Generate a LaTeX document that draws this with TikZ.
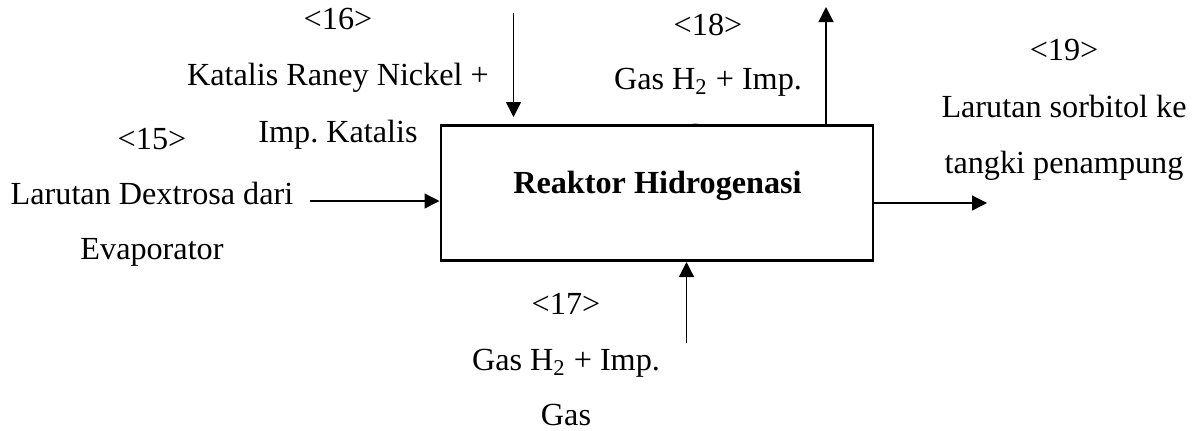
\documentclass[tikz,border=0pt]{standalone}
\usepackage{fontspec}
\setmainfont{Liberation Serif}
\usepackage{tikz}
\usetikzlibrary{arrows.meta,calc}
\frenchspacing

\begin{document}
\begin{tikzpicture}[
  x=0.5pt, y=-0.5pt,
  font=\fontsize{16.1}{19}\selectfont,
  lbl/.style={inner sep=0pt, anchor=base},
  unit/.style={draw, line width=1.3pt, fill=white, inner sep=0pt,
    minimum width=216pt, minimum height=67.7pt},
  flow/.style={-{Triangle[length=7.5pt,width=7.5pt]}, line width=0.65pt},
]
\useasboundingbox (0,0) rectangle (1199,430);
% stream 18 (last line lies behind the reactor)
\node[lbl] (n18) at (708,35) {<18>};
\node[lbl] (t18a) at (708,89) {Gas H\textsubscript{2} + Imp.};
\node[lbl] (t18b) at (708,145) {Gas};
% reactor
\node[unit] (reaktor) at (656.8,193) {};
\node[lbl, font=\fontsize{16.1}{19}\selectfont\bfseries] (nama) at (657.5,193) {Reaktor Hidrogenasi};
% stream 15
\node[lbl] (n15) at (152,149) {<15>};
\node[lbl] (t15a) at (152,204) {Larutan Dextrosa dari};
\node[lbl] (t15b) at (152,259) {Evaporator};
% stream 16
\node[lbl] (n16) at (338,29) {<16>};
\node[lbl] (t16a) at (338,85) {Katalis Raney Nickel +};
\node[lbl] (t16b) at (338,142) {Imp. Katalis};
% stream 17
\node[lbl] (n17) at (566,314) {<17>};
\node[lbl] (t17a) at (566,370) {Gas H\textsubscript{2} + Imp.};
\node[lbl] (t17b) at (566,425) {Gas};
% stream 19
\node[lbl] (n19) at (1064,60) {<19>};
\node[lbl] (t19a) at (1064,117) {Larutan sorbitol ke};
\node[lbl] (t19b) at (1064,173) {tangki penampung};
% arrows
\coordinate (a15) at (310,201);
\coordinate (a16s) at (513.5,13);
\coordinate (a16e) at (513.5,117);
\coordinate (a17) at (686.5,343);
\coordinate (a18) at (826,7);
\coordinate (a19) at (987,203);
\draw[flow] (a15) -- (a15 -| reaktor.west);
\draw[flow] (a16s) -- (a16e);
\draw[flow] (a17) -- (a17 |- reaktor.south);
\draw[flow] (a18 |- reaktor.north) -- (a18);
\draw[flow] (a19 -| reaktor.east) -- (a19);
\end{tikzpicture}
\end{document}
